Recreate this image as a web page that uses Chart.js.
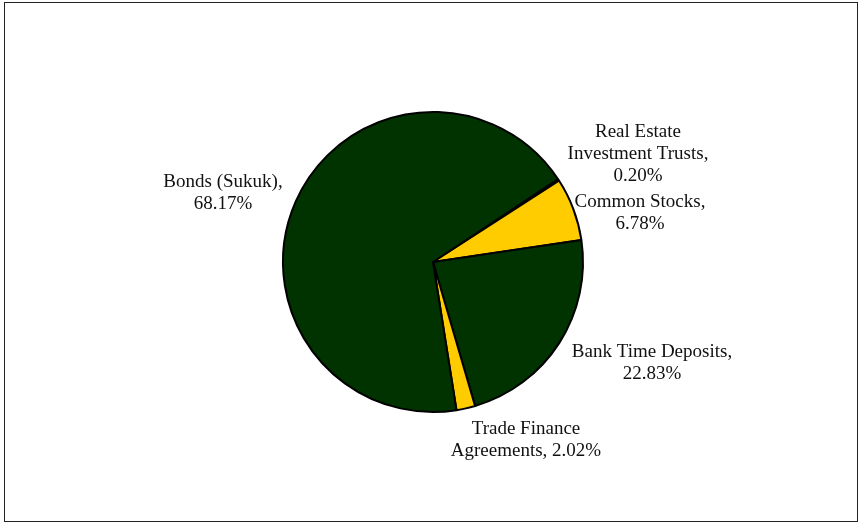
<!DOCTYPE html>
<html>
<head>
<meta charset="utf-8">
<script src="https://cdn.jsdelivr.net/npm/chart.js@4.4.0/dist/chart.umd.min.js"></script>
<style>
  html, body { margin: 0; padding: 0; background: #fff; }
  #wrap { position: relative; width: 860px; height: 524px; }
  #frame { position: absolute; left: 4px; top: 2px; width: 852px; height: 518px; border: 1.5px solid #222; }
  canvas { position: absolute; left: 0; top: 0; }
</style>
</head>
<body>
<div id="wrap">
  <div id="frame"></div>
  <canvas id="myChart" width="860" height="524"></canvas>
</div>
<script>
// Données du graphique (ordre horaire à partir du haut, après rotation)
var categories = ['Real Estate Investment Trusts', 'Common Stocks', 'Bank Time Deposits', 'Trade Finance Agreements', 'Bonds (Sukuk)'];
var shares = [0.20, 6.78, 22.83, 2.02, 68.17];
var labelLines = [
    ['Real Estate', 'Investment Trusts,', '0.20%'],
    ['Common Stocks,', '6.78%'],
    ['Bank Time Deposits,', '22.83%'],
    ['Trade Finance', 'Agreements, 2.02%'],
    ['Bonds (Sukuk),', '68.17%']
];
var sliceColors = ['#003300', '#FFCC00', '#003300', '#FFCC00', '#003300'];

// Position des étiquettes par rapport au centre du camembert (dx, dy du haut du bloc)
var labelPlugin = {
    id: 'sliceLabels',
    afterDraw: function(chart) {
        var ctx = chart.ctx;
        var arcs = chart.getDatasetMeta(0).data;
        var cx = arcs[0].x, cy = arcs[0].y;
        var offsets = [[205, -130], [207, -60], [219, 90], [93, 167], [-210, -80]];
        ctx.save();
        ctx.font = '19px "Liberation Serif", "Times New Roman", serif';
        ctx.fillStyle = '#111';
        ctx.textAlign = 'center';
        ctx.textBaseline = 'middle';
        labelLines.forEach(function(lines, i) {
            var x = cx + offsets[i][0];
            var y = cy + offsets[i][1];
            lines.forEach(function(line, j) {
                ctx.fillText(line, x, y + j * 22);
            });
        });
        ctx.restore();
    }
};

var ctx = document.getElementById('myChart').getContext('2d');
var myChart = new Chart(ctx, {
    type: 'pie',
    data: {
        labels: categories,
        datasets: [{
            data: shares,
            backgroundColor: sliceColors,
            borderColor: '#000',
            borderWidth: 2
        }]
    },
    options: {
        responsive: false,
        animation: false,
        rotation: 56.4,
        layout: { padding: { left: 6, right: 0, top: 111, bottom: 111 } },
        plugins: {
            legend: { display: false },
            tooltip: { enabled: false }
        }
    },
    plugins: [labelPlugin]
});
</script>
</body>
</html>
